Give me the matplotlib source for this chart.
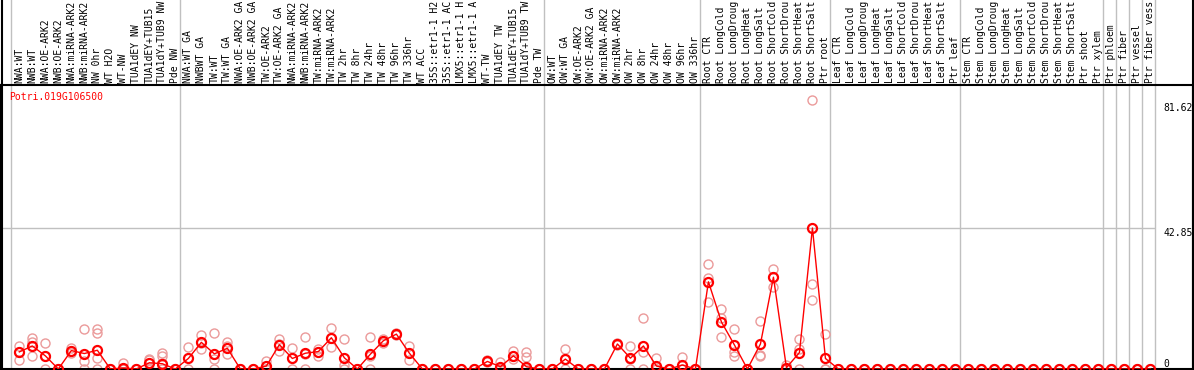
import matplotlib
matplotlib.use("Agg")
import matplotlib.pyplot as plt
import matplotlib.transforms as mtransforms
from matplotlib.lines import Line2D

# Sample labels (one per column), as far as they show in the strip
sample_labels = [
    "NWA:WT", "NWB:WT", "NWA:OE-ARK2", "NWB:OE-ARK2", "NWA:miRNA-ARK2", "NWB:miRNA-ARK2",
    "NW 0hr", "WT H2O", "WT-NW", "TUA1dEY NW", "TUA1dEY+TUB15", "TUA1dY+TUB9 NW", "Pde NW",
    "NWA:WT GA", "NWBWT GA", "TW:WT", "TW:WT GA", "NWA:OE-ARK2 GA", "NWB:OE-ARK2 GA",
    "TW:OE-ARK2", "TW:OE-ARK2 GA", "NWA:miRNA-ARK2", "NWB:miRNA-ARK2", "TW:miRNA-ARK2",
    "TW:miRNA-ARK2", "TW 2hr", "TW 8hr", "TW 24hr", "TW 48hr", "TW 96hr", "TW 336hr",
    "WT ACC", "35S::etr1-1 H2", "35S::etr1-1 AC", "LMX5::etr1-1 H", "LMX5::etr1-1 A",
    "WT-TW", "TUA1dEY TW", "TUA1dEY+TUB15", "TUA1dY+TUB9 TW", "Pde TW",
    "OW:WT", "OW:WT GA", "OW:OE-ARK2", "OW:OE-ARK2 GA", "OW:miRNA-ARK2", "OW:miRNA-ARK2",
    "OW 2hr", "OW 8hr", "OW 24hr", "OW 48hr", "OW 96hr", "OW 336hr",
    "Root CTR", "Root LongCold", "Root LongDroug", "Root LongHeat", "Root LongSalt",
    "Root ShortCold", "Root ShortDrou", "Root ShortHeat", "Root ShortSalt", "Ptr root",
    "Leaf CTR", "Leaf LongCold", "Leaf LongDroug", "Leaf LongHeat", "Leaf LongSalt",
    "Leaf ShortCold", "Leaf ShortDrou", "Leaf ShortHeat", "Leaf ShortSalt", "Ptr leaf",
    "Stem CTR", "Stem LongCold", "Stem LongDroug", "Stem LongHeat", "Stem LongSalt",
    "Stem ShortCold", "Stem ShortDrou", "Stem ShortHeat", "Stem ShortSalt", "Ptr shoot",
    "Ptr xylem", "Ptr phloem", "Ptr fiber", "Ptr vessel", "Ptr fiber vess",
]

# Mean expression per sample
mean_values = [
    5.2, 7.0, 4.0, 0, 5.6, 4.7, 5.7, 0, 0.3, 0, 1.9, 1.6, 0,
    3.2, 8.1, 4.6, 6.3, 0, 0, 0.9, 7.4, 3.2, 4.8, 5.3, 9.5, 3.4, 0, 4.5, 8.6, 10.6, 4.8,
    0, 0, 0, 0, 0, 2.3, 0.7, 4.0, 0.7, 0,
    0, 3.0, 0, 0, 0, 7.6, 3.3, 7.0, 0.9, 0, 1.2, 0,
    26.5, 14.3, 7.3, 0, 7.6, 27.9, 0.4, 5.0, 42.85, 3.2,
] + [0] * 25

# Replicate values per sample
replicate_values = [
    [6.9, 5.2, 2.6], [9.3, 8.1, 4.0], [8.0, 4.0, 0], [0, 0, 0], [6.4, 5.6, 4.8],
    [12.3, 2.5, 0], [12.3, 10.8, 3.2, 0], [0, 0, 0], [1.8, 0, 0], [0, 0, 0],
    [2.7, 2.9, 0], [5.0, 4.0, 1.8, 0], [0, 0, 0],
    [6.6, 0], [10.2, 8.0, 6.1], [10.8, 4.6, 3.0, 0], [8.1, 7.1, 4.6], [0, 0, 0],
    [0, 0, 0], [2.3, 0, 0], [9.1, 7.6, 5.6], [6.4, 3.2, 0], [9.8, 4.6, 0],
    [6.1, 5.3, 3.8], [12.4, 9.5, 6.8], [9.0, 1.2, 0], [0, 0, 0], [9.6, 3.9, 0],
    [9.0, 8.6, 8.0], [11.0, 10.6, 10.2], [6.9, 4.8, 2.7],
    [0, 0, 0], [0, 0, 0], [0, 0, 0], [0, 0, 0], [0, 0, 0],
    [2.6, 2.3, 2.0], [2.2, 0, 0], [5.4, 4.0, 2.9], [5.3, 3.7, 0], [0, 0, 0],
    [0, 0, 0], [6.0, 3.0, 0], [0, 0, 0], [0, 0, 0], [0, 0, 0], [8.0, 7.6, 7.2],
    [7.0, 3.0, 0], [15.4, 5.3, 0], [3.3, 0, 0], [0, 0, 0], [3.7, 0, 0], [0, 0, 0],
    [31.9, 27.6, 20.3], [18.2, 15.4, 9.6], [12.1, 5.3, 4.0], [0, 0, 0],
    [14.5, 4.3, 4.0], [30.4, 27.9, 25.0], [1.3, 0, 0], [9.1, 6.0, 0],
    [81.62, 25.9, 21.0], [10.6, 0, 0],
] + [[0, 0, 0]] * 25

# first column index of each group (a separator line is drawn before it)
group_starts = [0, 13, 41, 53, 63, 73, 84, 85, 86, 87, 88]

gene_name = "Potri.019G106500"
y_tick_values = [81.62, 42.85, 0]
y_tick_labels = ["81.62", "42.85", "0"]
y_label_va = ["top", "top", "bottom"]

mono = "DejaVu Sans Mono"
red = "#ff0000"
pale_red = "#eb9a9a"
grid_grey = "#c0c0c0"

fig = plt.figure(figsize=(11.94, 3.70), dpi=100)
ax = fig.add_axes([1 / 1194, 1 / 370, 1192 / 1194, 284 / 370])

xs = list(range(len(sample_labels)))

# replicates
for i, reps in enumerate(replicate_values):
    ax.plot([i] * len(reps), reps, "o", mfc="none", mec=pale_red, ms=6.5, mew=1.0, zorder=2)

# means
ax.plot(xs, mean_values, "-", color=red, lw=1.0, zorder=3)
ax.plot(xs, mean_values, "o", mfc="none", mec=red, ms=6.5, mew=1.6, zorder=4)

ax.set_xlim(-1.41, 90.27)
ax.set_ylim(0, 86.3)
ax.set_xticks([])
ax.set_yticks([])
for s in ax.spines.values():
    s.set_color("black")
    s.set_linewidth(1.5)

# separators between sample groups, running up through the label strip
for g in group_starts:
    ax.axvline(g - 0.62, ymin=0, ymax=369 / 284, color=grid_grey, lw=1.0, clip_on=False, zorder=1)

ax.hlines(42.85, -1.41, 87.38, color=grid_grey, lw=1.0, zorder=1)

# rotated sample labels above the plot
trans = mtransforms.blended_transform_factory(ax.transData, ax.transAxes)
for i, lab in enumerate(sample_labels):
    ax.text(i, 1.006, lab, transform=trans, rotation=90, ha="center", va="bottom",
            fontsize=7, family=mono, clip_on=False)

# value labels on the right (nudged a few pixels like the original)
offset = mtransforms.offset_copy(ax.transData, fig=fig, x=0, y=-2, units="points")
for v, t, va in zip(y_tick_values, y_tick_labels, y_label_va):
    ax.text(87.98, v, t, ha="left", va=va, fontsize=7, family=mono,
            transform=offset if v == 81.62 else ax.transData)

ax.text(8 / 1192, 0.957, gene_name, transform=ax.transAxes, ha="left", va="center",
        fontsize=7, family=mono, color=red)

# outer borders run the full height of the figure
fig.add_artist(Line2D([1.5 / 1194, 1.5 / 1194], [0, 1], color="black", lw=1.5))
fig.add_artist(Line2D([1192.5 / 1194, 1192.5 / 1194], [0, 1], color="black", lw=1.5))

fig.savefig("out.png", dpi=100)
